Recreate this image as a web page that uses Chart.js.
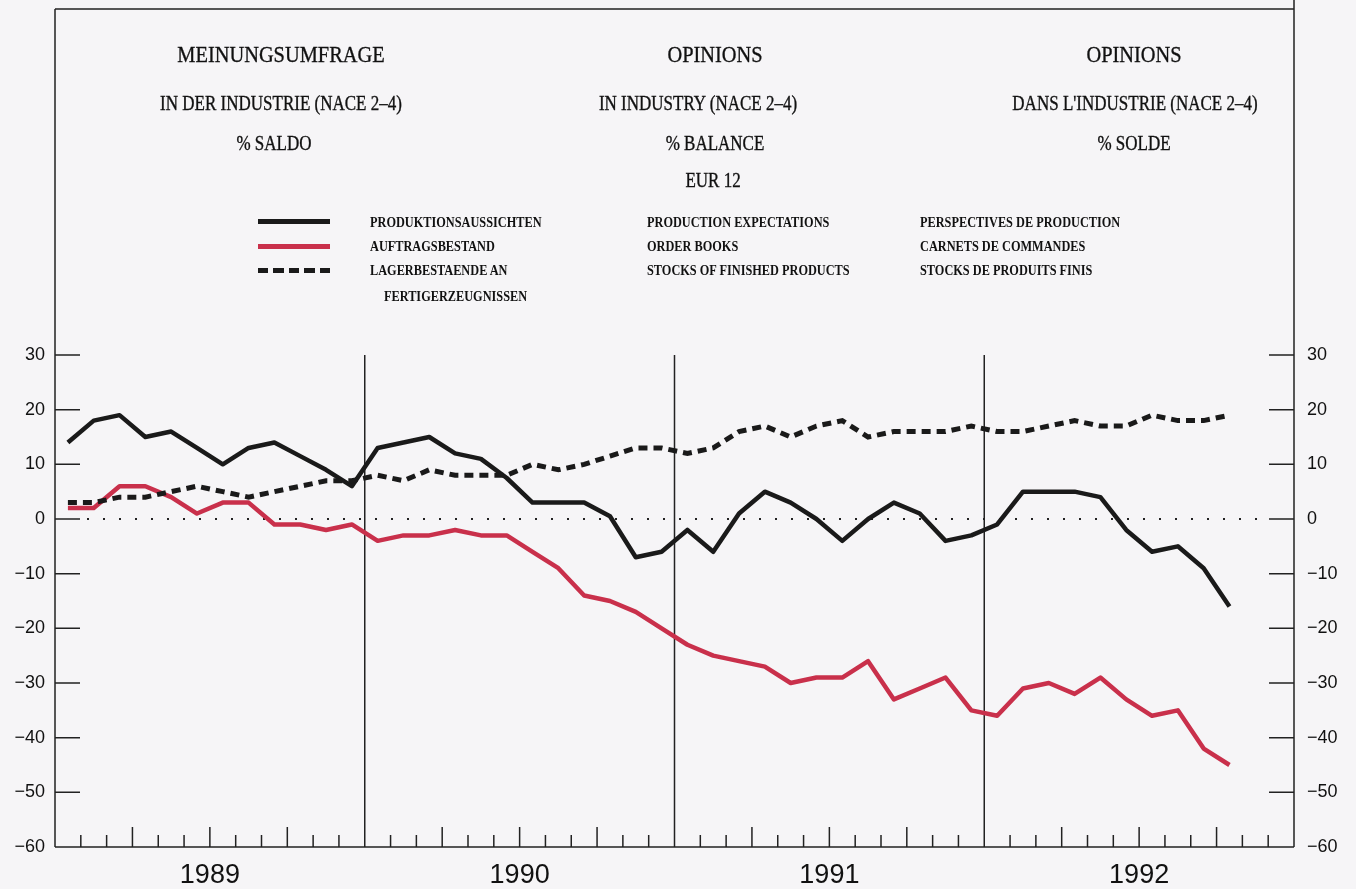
<!DOCTYPE html>
<html>
<head>
<meta charset="utf-8">
<script src="https://cdn.jsdelivr.net/npm/chart.js@4.4.0/dist/chart.umd.min.js"></script>
<style>
  body { margin: 0; background: #f6f5f7; }
  #wrap { position: relative; width: 1356px; height: 889px; overflow: hidden; }
  canvas { position: absolute; left: 0; top: 0; }
  .t { position: absolute; white-space: nowrap; color: #111; font-family: "Liberation Serif", "DejaVu Serif", serif;
       -webkit-text-stroke: 0.35px #111; transform: translate(-50%, -50%) scaleX(0.85); }
  .l { position: absolute; white-space: nowrap; color: #111; font-family: "Liberation Serif", "DejaVu Serif", serif;
       font-weight: bold; font-size: 15px; transform-origin: left center; transform: translateY(-50%) scaleX(0.82); }
  .sw { position: absolute; left: 258px; width: 72px; height: 5px; margin-top: -2px; }
</style>
</head>
<body>
<div id="wrap">
  <canvas id="chart" width="1356" height="889"></canvas>

  <div class="t" style="left:281px;top:54px;font-size:24px">MEINUNGSUMFRAGE</div>
  <div class="t" style="left:281px;top:103px;font-size:20px">IN DER INDUSTRIE (NACE 2–4)</div>
  <div class="t" style="left:274px;top:143px;font-size:20px">% SALDO</div>

  <div class="t" style="left:715px;top:54px;font-size:24px">OPINIONS</div>
  <div class="t" style="left:698px;top:103px;font-size:20px">IN INDUSTRY (NACE 2–4)</div>
  <div class="t" style="left:715px;top:143px;font-size:20px">% BALANCE</div>
  <div class="t" style="left:713px;top:180px;font-size:20px">EUR 12</div>

  <div class="t" style="left:1134px;top:54px;font-size:24px">OPINIONS</div>
  <div class="t" style="left:1135px;top:103px;font-size:20px">DANS L'INDUSTRIE (NACE 2–4)</div>
  <div class="t" style="left:1134px;top:143px;font-size:20px">% SOLDE</div>

  <div class="sw" style="top:221px;background:#1a1a1a"></div>
  <div class="sw" style="top:246px;background:#c9304b"></div>
  <div class="sw" style="top:270px;background:repeating-linear-gradient(90deg,#1a1a1a 0 10px,transparent 10px 15.5px)"></div>

  <div class="l" style="left:370px;top:222px">PRODUKTIONSAUSSICHTEN</div>
  <div class="l" style="left:370px;top:246px">AUFTRAGSBESTAND</div>
  <div class="l" style="left:370px;top:270px">LAGERBESTAENDE AN</div>
  <div class="l" style="left:384px;top:296px">FERTIGERZEUGNISSEN</div>

  <div class="l" style="left:647px;top:222px">PRODUCTION EXPECTATIONS</div>
  <div class="l" style="left:647px;top:246px">ORDER BOOKS</div>
  <div class="l" style="left:647px;top:270px">STOCKS OF FINISHED PRODUCTS</div>

  <div class="l" style="left:920px;top:222px">PERSPECTIVES DE PRODUCTION</div>
  <div class="l" style="left:920px;top:246px">CARNETS DE COMMANDES</div>
  <div class="l" style="left:920px;top:270px">STOCKS DE PRODUITS FINIS</div>
</div>

<script>
// monthly balances, Jan 1989 .. Oct 1992
const years = ['1989', '1990', '1991', '1992'];
const production = [
  14, 18, 19, 15, 16, 13, 10, 13, 14, 11.5, 9, 6,
  13, 14, 15, 12, 11, 7.5, 3, 3, 3, 0.5, -7, -6,
  -2, -6, 1, 5, 3, 0, -4, 0, 3, 1, -4, -3,
  -1, 5, 5, 5, 4, -2, -6, -5, -9, -16
];
const orderBooks = [
  2, 2, 6, 6, 4, 1, 3, 3, -1, -1, -2, -1,
  -4, -3, -3, -2, -3, -3, -6, -9, -14, -15, -17, -20,
  -23, -25, -26, -27, -30, -29, -29, -26, -33, -31, -29, -35,
  -36, -31, -30, -32, -29, -33, -36, -35, -42, -45
];
const stocks = [
  3, 3, 4, 4, 5, 6, 5, 4, 5, 6, 7, 7,
  8, 7, 9, 8, 8, 8, 10, 9, 10, 11.5, 13, 13,
  12, 13, 16, 17, 15, 17, 18, 15, 16, 16, 16, 17,
  16, 16, 17, 18, 17, 17, 19, 18, 18, 19
];
const yTicks = [30, 20, 10, 0, -10, -20, -30, -40, -50, -60];

function pts(arr) {
  return arr.map((v, i) => ({ x: i + 0.5, y: v }));
}

const tickFont = { family: '"Liberation Sans", Arial, sans-serif', size: 18 };
const minus = v => String(v).replace('-', '\u2212');

// frame, year separators, month ticks, inward value ticks, dotted zero line
const decor = {
  id: 'decor',
  beforeDatasetsDraw(chart) {
    const { ctx, chartArea: a, scales } = chart;
    const x = scales.x, y = scales.y;
    ctx.save();
    ctx.strokeStyle = '#222';
    ctx.lineWidth = 1.5;
    ctx.beginPath();
    ctx.moveTo(a.left, 9); ctx.lineTo(a.right, 9);
    ctx.moveTo(a.left, 9); ctx.lineTo(a.left, a.bottom);
    ctx.moveTo(a.right, 0); ctx.lineTo(a.right, a.bottom);
    ctx.moveTo(a.left, a.bottom); ctx.lineTo(a.right, a.bottom);
    for (let m = 1; m < 48; m++) {
      const px = x.getPixelForValue(m);
      if (m % 12 === 0) {
        ctx.moveTo(px, a.top); ctx.lineTo(px, a.bottom);
      } else {
        const h = m % 3 === 0 ? 20 : 12;
        ctx.moveTo(px, a.bottom); ctx.lineTo(px, a.bottom - h);
      }
    }
    yTicks.forEach(v => {
      const py = y.getPixelForValue(v);
      ctx.moveTo(a.left, py); ctx.lineTo(a.left + 25, py);
      ctx.moveTo(a.right, py); ctx.lineTo(a.right - 25, py);
    });
    ctx.stroke();
    const z = y.getPixelForValue(0);
    ctx.setLineDash([2, 14]);
    ctx.lineWidth = 2;
    ctx.beginPath();
    ctx.moveTo(a.left + 32, z); ctx.lineTo(a.right - 25, z);
    ctx.stroke();
    ctx.restore();
  }
};

new Chart(document.getElementById('chart'), {
  type: 'line',
  data: {
    datasets: [
      { label: 'LAGERBESTAENDE AN FERTIGERZEUGNISSEN', data: pts(stocks), borderColor: '#1a1a1a',
        borderWidth: 5, borderDash: [9, 6], pointRadius: 0, tension: 0 },
      { label: 'AUFTRAGSBESTAND', data: pts(orderBooks), borderColor: '#c9304b',
        borderWidth: 4.5, pointRadius: 0, tension: 0, borderJoinStyle: 'round' },
      { label: 'PRODUKTIONSAUSSICHTEN', data: pts(production), borderColor: '#1a1a1a',
        borderWidth: 4.5, pointRadius: 0, tension: 0, borderJoinStyle: 'round' }
    ]
  },
  options: {
    responsive: false,
    animation: false,
    layout: { padding: { top: 355, left: 0, right: 0, bottom: 0 } },
    plugins: { legend: { display: false }, tooltip: { enabled: false } },
    scales: {
      x: {
        type: 'linear', min: 0, max: 48,
        grid: { display: false }, border: { display: false },
        afterBuildTicks: s => { s.ticks = years.map((yr, i) => ({ value: i * 12 + 6 })); },
        afterFit: s => { s.height = 42; },
        ticks: {
          autoSkip: false, maxRotation: 0, padding: 4, color: '#111',
          font: { family: '"Liberation Sans Narrow", "Liberation Sans", sans-serif', size: 27 },
          callback: v => years[(v - 6) / 12]
        }
      },
      y: {
        position: 'left', min: -60, max: 30,
        grid: { display: false, drawTicks: false }, border: { display: false },
        afterFit: s => { s.width = 55; },
        ticks: { stepSize: 10, padding: 10, color: '#111', font: tickFont, callback: minus }
      },
      y2: {
        position: 'right', min: -60, max: 30,
        grid: { display: false, drawTicks: false }, border: { display: false },
        afterFit: s => { s.width = 62; },
        ticks: { stepSize: 10, padding: 13, color: '#111', font: tickFont, callback: minus }
      }
    }
  },
  plugins: [decor]
});
</script>
</body>
</html>
